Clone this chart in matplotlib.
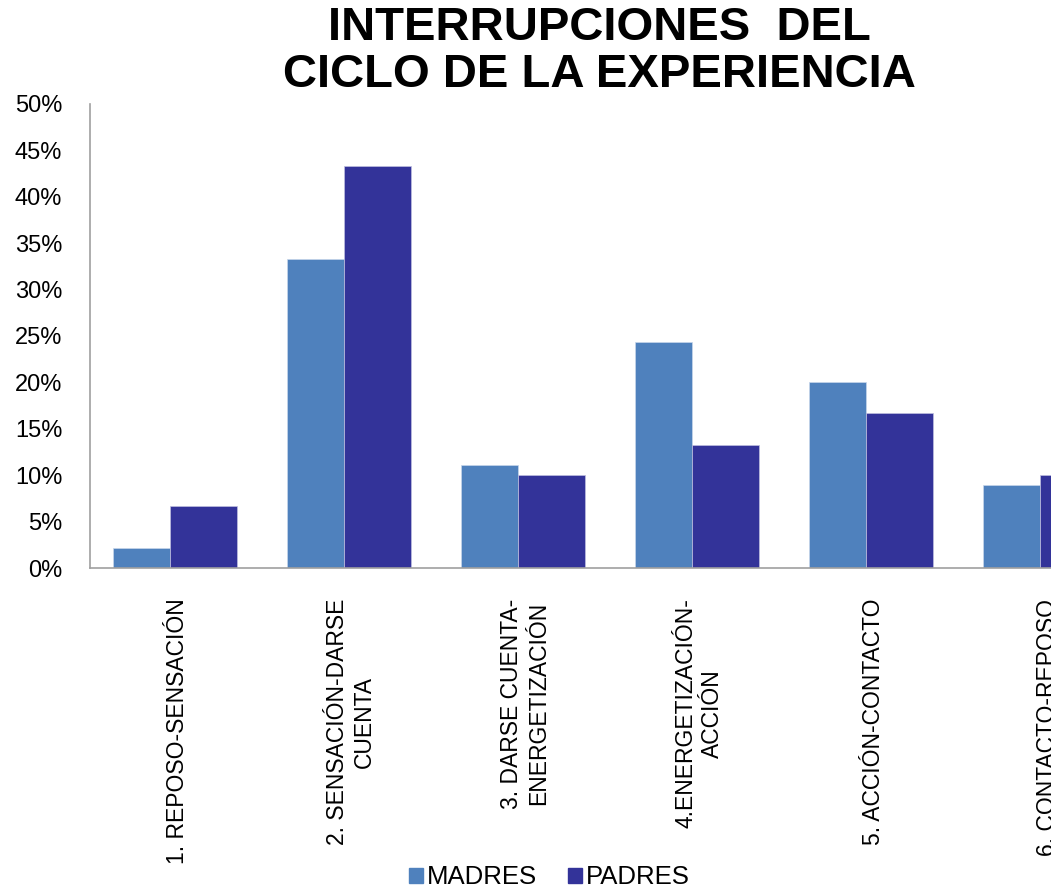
import numpy as np
import matplotlib
matplotlib.use("Agg")
import matplotlib.pyplot as plt
from matplotlib.patches import Patch

plt.rcParams['font.family'] = ['Liberation Sans', 'DejaVu Sans']

categorias = [
    "1. REPOSO-SENSACIÓN",
    "2. SENSACIÓN-DARSE\nCUENTA",
    "3. DARSE CUENTA-\nENERGETIZACIÓN",
    "4.ENERGETIZACIÓN-\nACCIÓN",
    "5. ACCIÓN-CONTACTO",
    "6. CONTACTO-REPOSO",
]
madres = [2.2, 33.3, 11.1, 24.4, 20.0, 8.9]
padres = [6.7, 43.3, 10.0, 13.3, 16.7, 10.0]

c_madres = "#4F81BD"
c_padres = "#333399"

fig = plt.figure(figsize=(10.51, 8.88), dpi=100)
# axes runs past the right edge of the figure, like the cropped original
ax = fig.add_axes([90 / 1051, 320 / 888, 1044 / 1051, 464 / 888])

x = np.arange(len(categorias))
ax.bar(x - 0.04, madres, width=-0.33, align='edge', color=c_madres,
       edgecolor='#c8d6ea', linewidth=0.5)
ax.bar(x - 0.04, padres, width=0.385, align='edge', color=c_padres,
       edgecolor='#c0c0e0', linewidth=0.5)

ax.set_xlim(-0.5, len(categorias) - 0.5)
ax.set_ylim(0, 50)
ax.set_yticks(np.arange(0, 51, 5))
ax.set_yticklabels([f"{v}%" for v in range(0, 51, 5)], fontsize=17)
ax.set_xticks(x)
ax.set_xticklabels(categorias, rotation=90, fontsize=16.5, ha='center',
                   va='top', multialignment='center')
ax.tick_params(axis='x', length=0, pad=22)
ax.tick_params(axis='y', length=0, pad=20)

for s in ['top', 'right']:
    ax.spines[s].set_visible(False)
for s in ['left', 'bottom']:
    ax.spines[s].set_color('#a0a0a0')
    ax.spines[s].set_linewidth(1.2)

fig.text(0.57, 0.968, "INTERRUPCIONES  DEL", ha='center', va='center',
         fontsize=34, fontweight='bold',
         family=['Liberation Sans Narrow', 'Liberation Sans'])
fig.text(0.57, 0.915, "CICLO DE LA EXPERIENCIA", ha='center', va='center',
         fontsize=34, fontweight='bold',
         family=['Liberation Sans Narrow', 'Liberation Sans'])

handles = [Patch(color=c_madres, label="MADRES"),
           Patch(color=c_padres, label="PADRES")]
fig.legend(handles=handles, loc='center', bbox_to_anchor=(0.523, 0.012),
           ncol=2, frameon=False, fontsize=18.5, handlelength=0.55,
           handleheight=0.55, handletextpad=0.15, columnspacing=1.2)

fig.savefig("out.png", dpi=100)
